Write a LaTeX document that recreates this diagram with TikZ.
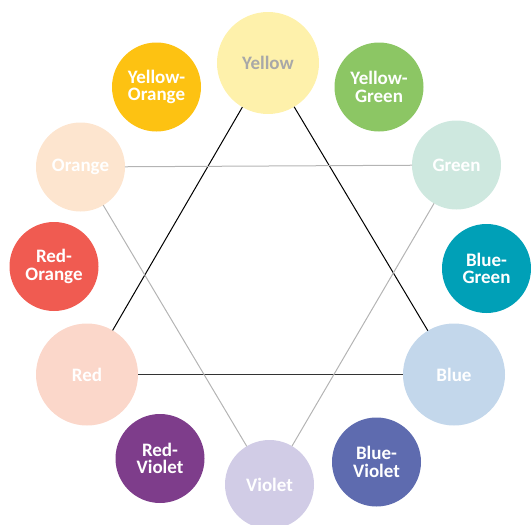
\documentclass[tikz,border=0pt]{standalone}
\usepackage{fontspec}
\setmainfont{Carlito}

\definecolor{cYellow}{HTML}{FEF1AB}
\definecolor{cYellowOrange}{HTML}{FDC212}
\definecolor{cYellowGreen}{HTML}{8CC664}
\definecolor{cOrange}{HTML}{FDE5CF}
\definecolor{cGreen}{HTML}{CEE8DF}
\definecolor{cRedOrange}{HTML}{F05B51}
\definecolor{cBlueGreen}{HTML}{00A0B7}
\definecolor{cRed}{HTML}{FBD7CA}
\definecolor{cBlue}{HTML}{C3D7EB}
\definecolor{cRedViolet}{HTML}{7E3D8B}
\definecolor{cBlueViolet}{HTML}{5E6BAF}
\definecolor{cViolet}{HTML}{D1CCE6}
\definecolor{cLabelGray}{HTML}{A8A8A8}
\definecolor{cLineGray}{HTML}{B4B4B4}

\begin{document}
\begin{tikzpicture}[x=1pt,y=-1pt]
		\tikzset{hue/.style = {shape=circle, inner sep=0pt, outer sep=0pt, minimum size=89pt, text=white, align=center, font=\bfseries\fontsize{19}{17.5}\selectfont}}
		\tikzset{primary/.style = {hue, minimum size=102pt}}

		\useasboundingbox (0,0) rectangle (531,525);

		\node[primary, fill=cYellow, text=cLabelGray] (Y) at (268,63) {Yellow};
		\node[hue, fill=cYellowOrange] (YO) at (156.5,87) {Yellow-\\Orange};
		\node[hue, fill=cYellowGreen] (YG) at (379,87) {Yellow-\\Green};
		\node[hue, fill=cOrange] (O) at (80.5,167) {Orange};
		\node[hue, fill=cGreen] (G) at (456.5,165) {Green};
		\node[hue, fill=cRedOrange] (RO) at (54,266.5) {Red-\\Orange};
		\node[hue, fill=cBlueGreen] (BG) at (486.5,268.5) {Blue-\\Green};
		\node[primary, fill=cRed] (R) at (87,374.5) {Red};
		\node[primary, fill=cBlue] (B) at (454,374.5) {Blue};
		\node[hue, fill=cRedViolet] (RV) at (160,458.5) {Red-\\Violet};
		\node[hue, fill=cBlueViolet] (BV) at (376.5,462) {Blue-\\Violet};
		\node[hue, fill=cViolet] (V) at (269.5,484.5) {Violet};



		\draw[black, line width=1pt] (Y)--(R);
		\draw[black, line width=1pt] (Y)--(B);
		\draw[black!80, line width=1.6pt] (R)--(B);

		\draw[cLineGray, line width=1pt] (O)--(G);
		\draw[cLineGray, line width=1pt] (O)--(V);
		\draw[cLineGray, line width=1pt] (G)--(V);

	\end{tikzpicture}
\end{document}
